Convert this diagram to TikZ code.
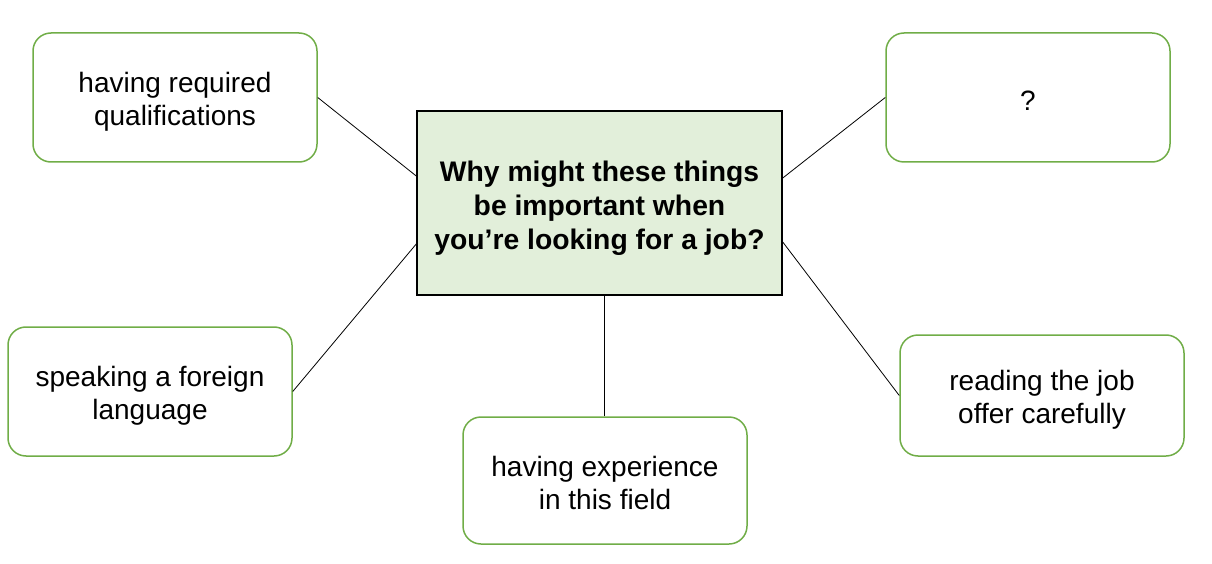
\documentclass[tikz,border=0pt]{standalone}
\usepackage{fontspec}
\setmainfont{Liberation Sans}
\definecolor{gborder}{HTML}{70AD47}
\definecolor{gfill}{HTML}{E2EFDA}
\begin{document}
\begin{tikzpicture}[x=1pt,y=-1pt,
  idea/.style={draw=gborder, line width=1.5pt, rounded corners=18pt, fill=white,
    minimum width=284pt, inner sep=0pt},
  ideatext/.style={inner sep=0pt, align=center,
    font=\fontsize{28}{33}\selectfont},
  hub/.style={draw=black, line width=1.5pt, fill=gfill, minimum width=365pt,
    minimum height=184pt, inner sep=0pt},
  hubtext/.style={inner sep=0pt, align=center,
    font=\fontsize{28.3}{34}\selectfont\bfseries},
  link/.style={draw=black, line width=0.8pt}]
\useasboundingbox (0,0) rectangle (1212,564);
\node[hub] (c) at (599.5,203) {};
\node[hubtext] (ct) at (599.5,208) {Why might these things\\be important when\\you’re looking for a job?};
\node[idea, minimum height=129pt] (tl) at (175,97.5) {};
\node[ideatext] (tlt) at (175,102) {having required\\qualifications};
\node[idea, minimum height=129pt] (tr) at (1028,97.5) {};
\node[ideatext] (trt) at (1028,100.5) {?};
\node[idea, minimum height=129pt] (lb) at (150,391.5) {};
\node[ideatext] (lbt) at (150,396) {speaking a foreign\\language};
\node[idea, minimum height=127pt] (bc) at (605,480.5) {};
\node[ideatext] (bct) at (605,482.5) {having experience\\in this field};
\node[idea, minimum height=121pt] (rb) at (1042,395.5) {};
\node[ideatext] (rbt) at (1042,400) {reading the job\\offer carefully};
\draw[link] (tl.east) -- ([yshift=27pt]c.west);
\draw[link] (tr.west) -- ([yshift=25pt]c.east);
\draw[link] (lb.east) -- ([yshift=-41pt]c.west);
\draw[link] (rb.west) -- ([yshift=-39pt]c.east);
\draw[link] ([xshift=-1pt]bc.north) -- ([xshift=-1pt]c.south -| bc.north);
\end{tikzpicture}
\end{document}
